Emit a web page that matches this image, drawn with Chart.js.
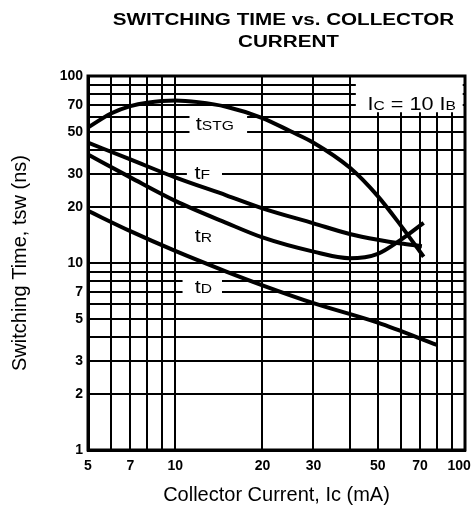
<!DOCTYPE html>
<html><head><meta charset="utf-8">
<script src="https://cdn.jsdelivr.net/npm/chart.js@4.4.0/dist/chart.umd.min.js"></script>
<style>html,body{margin:0;padding:0;background:#fff;overflow:hidden}canvas{display:block}</style>
</head><body>
<canvas id="c" width="474" height="507"></canvas>
<script>
// ---- data ----
const currentStg = [5, 6, 7, 8, 10, 12, 15, 20, 25, 30, 40, 50, 60, 72];
const timeStg    = [53, 63, 69, 72, 74, 72.5, 68.5, 59.6, 50.6, 44, 32.4, 22.8, 15.9, 10.8];
const currentF   = [5, 7, 10, 15, 20, 30, 40, 50, 60, 71];
const timeF      = [44, 35.8, 28.7, 23, 19.6, 16.3, 14.3, 13.3, 12.7, 12.3];
const currentR   = [5, 7, 10, 15, 20, 30, 40, 50, 60, 72];
const timeR      = [38, 28.7, 21.5, 16.4, 13.7, 11.5, 10.6, 11.2, 13.3, 16.4];
const currentD   = [5, 7, 10, 15, 20, 30, 50, 80];
const timeD      = [19, 14.8, 11.6, 9.0, 7.6, 6.1, 4.8, 3.65];

const xGrid = [5, 6, 7, 8, 9, 10, 20, 30, 40, 50, 60, 70, 80, 90, 100];
const xTickLabels = [5, 7, 10, 20, 30, 50, 70, 100];
const yGrid = [1, 2, 3, 4, 5, 6, 7, 8, 9, 10, 20, 30, 40, 50, 60, 70, 80, 90, 100];
const yTickLabels = [1, 2, 3, 5, 7, 10, 20, 30, 50, 70, 100];

const titleLines = ['SWITCHING TIME vs. COLLECTOR', 'CURRENT'];
const xTitle = 'Collector Current, Ic (mA)';
const yTitle = 'Switching Time, tsw (ns)';

// curve labels: main letter + small-caps subscript, anchored in data units
const curveLabels = [
  {parts: [['t', 18], ['STG', 13]], x: 13.7, y: 56,   box: [11.2, 17.7, 64, 47.5]},
  {parts: [['t', 18], ['F', 13]],   x: 12.4, y: 30.5, box: [10.97, 14.5, 34.9, 25.9]},
  {parts: [['t', 18], ['R', 13]],   x: 12.5, y: 14.1, box: null},
  {parts: [['t', 18], ['D', 13]],   x: 12.5, y: 7.44, box: [10.6, 14.5, 8.52, 6.5]},
  {parts: [['I', 18], ['C', 13], [' = 10 ', 18], ['I', 18], ['B', 13]], x: 65.5, y: 71.6, box: [42, 98.2, 100, 64]}
];

const FAMILY = '"Liberation Sans", Arial, Helvetica, sans-serif';

function series(xs, ys) { return xs.map((v, i) => ({x: v, y: ys[i]})); }
function mk(xs, ys, label) {
  return {label, data: series(xs, ys), showLine: true, borderColor: '#000', borderWidth: 4,
          pointRadius: 0, cubicInterpolationMode: 'monotone', fill: false};
}

function drawParts(ctx, parts, cx, cy, sx, weight) {
  let w = 0;
  parts.forEach(([t, s]) => { ctx.font = `${weight || ''} ${s}px ${FAMILY}`; w += ctx.measureText(t).width; });
  const main = parts[0][1];
  ctx.save();
  ctx.translate(cx, cy);
  ctx.scale(sx, 1);
  ctx.textAlign = 'left';
  ctx.textBaseline = 'alphabetic';
  ctx.fillStyle = '#000';
  let xx = -w / 2;
  parts.forEach(([t, s]) => {
    ctx.font = `${weight || ''} ${s}px ${FAMILY}`;
    ctx.fillText(t, xx, main * 0.716 / 2);
    xx += ctx.measureText(t).width;
  });
  ctx.restore();
}

const deco = {
  id: 'deco',
  beforeDatasetsDraw(chart) {
    const {ctx, chartArea: a, scales: {x, y}} = chart;
    ctx.save();
    ctx.fillStyle = '#fff';
    curveLabels.forEach(L => {
      if (!L.box) return;
      const x1 = x.getPixelForValue(L.box[0]), x2 = x.getPixelForValue(L.box[1]);
      const y1 = y.getPixelForValue(L.box[2]), y2 = y.getPixelForValue(L.box[3]);
      ctx.fillRect(x1, y1, x2 - x1, y2 - y1);
    });
    ctx.strokeStyle = '#000';
    ctx.lineWidth = 3;
    ctx.strokeRect(a.left, a.top, a.right - a.left, a.bottom - a.top);
    curveLabels.forEach(L => {
      drawParts(ctx, L.parts, x.getPixelForValue(L.x), y.getPixelForValue(L.y), 1.2, '');
    });
    ctx.restore();
  },
  afterDraw(chart) {
    const ctx = chart.ctx;
    const a = chart.chartArea;
    const cx = (a.left + a.right) / 2;
    ctx.save();
    ctx.fillStyle = '#000';
    ctx.font = `bold 16px ${FAMILY}`;
    ctx.textBaseline = 'alphabetic';
    ctx.textAlign = 'center';
    [[titleLines[0], cx + 7, 25], [titleLines[1], cx + 12, 47]].forEach(([t, px, py]) => {
      ctx.save(); ctx.translate(px, py); ctx.scale(1.29, 1); ctx.fillText(t, 0, 0); ctx.restore();
    });
    ctx.restore();
  }
};

const tickFont = {size: 14, weight: 'bold', family: FAMILY};

new Chart(document.getElementById('c').getContext('2d'), {
  type: 'scatter',
  data: {datasets: [
    mk(currentStg, timeStg, 'tSTG'),
    mk(currentF, timeF, 'tF'),
    mk(currentR, timeR, 'tR'),
    mk(currentD, timeD, 'tD')
  ]},
  options: {
    responsive: false, animation: false, devicePixelRatio: 1,
    layout: {padding: {top: 76, right: 9, bottom: 0, left: 0}},
    plugins: {legend: {display: false}, tooltip: {enabled: false}, title: {display: false}},
    scales: {
      x: {
        type: 'logarithmic', min: 5, max: 100,
        afterBuildTicks: s => { s.ticks = xGrid.map(v => ({value: v})); },
        afterFit: s => { s.height = 57; s.paddingLeft = 0; s.paddingRight = 0; },
        grid: {color: '#000', lineWidth: 2, drawTicks: false},
        border: {display: true, color: '#000', width: 3},
        ticks: {autoSkip: false, maxRotation: 0, minRotation: 0, padding: 8, color: '#000', font: tickFont,
                // the last label sits inside the right edge, as in the reference
                callback: v => xTickLabels.includes(v) ? (v === 100 ? '100   ' : String(v)) : ''},
        title: {display: true, text: xTitle, color: '#000', font: {size: 20, family: FAMILY}, padding: {top: 0, bottom: 0}}
      },
      y: {
        type: 'logarithmic', min: 1, max: 100,
        afterBuildTicks: s => { s.ticks = yGrid.map(v => ({value: v})); },
        afterFit: s => { s.width = 88; s.paddingTop = 0; s.paddingBottom = 0; },
        grid: {color: '#000', lineWidth: 2, drawTicks: false},
        border: {display: true, color: '#000', width: 3},
        ticks: {autoSkip: false, padding: 5, color: '#000', font: tickFont,
                callback: v => yTickLabels.includes(v) ? String(v) : ''},
        title: {display: true, text: yTitle, color: '#000', font: {size: 20, family: FAMILY}, padding: {top: 8, bottom: 0}}
      }
    }
  },
  plugins: [deco]
});
</script>
</body></html>
